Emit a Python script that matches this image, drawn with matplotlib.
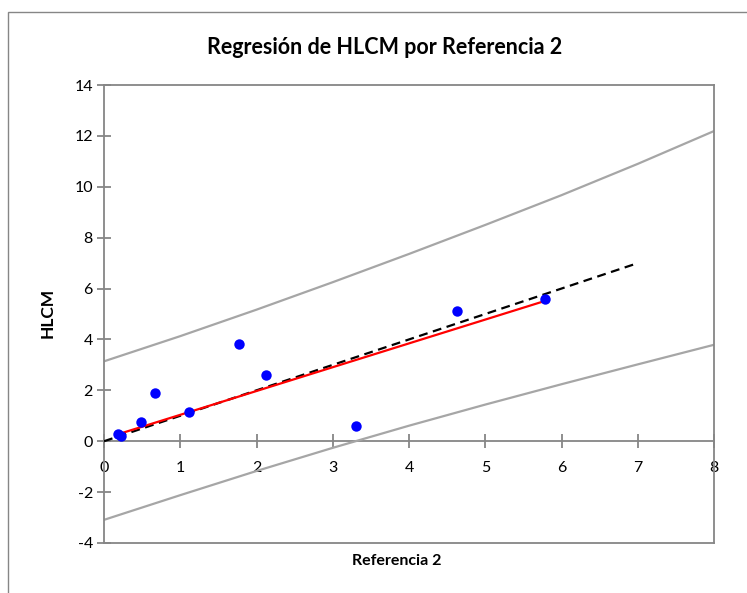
import matplotlib
matplotlib.use("Agg")
import matplotlib.pyplot as plt
from matplotlib.patches import Rectangle

# Data
ref2 = [0.18, 0.22, 0.49, 0.67, 1.11, 1.77, 2.13, 3.31, 4.63, 5.79]
hlcm = [0.29, 0.21, 0.76, 1.89, 1.16, 3.84, 2.61, 0.59, 5.11, 5.57]

# regression line (red)
fit_x = [0.18, 5.79]
fit_y = [0.27, 5.52]

# identity line (dashed)
ident_x = [0, 7]
ident_y = [0, 7]

# prediction bands (grey)
band_x = [0, 1, 2, 3, 4, 5, 6, 7, 8]
band_up = [3.14, 4.13, 5.17, 6.25, 7.36, 8.50, 9.67, 10.90, 12.19]
band_lo = [-3.09, -2.12, -1.17, -0.26, 0.61, 1.44, 2.24, 3.02, 3.79]

x_ticks = [0, 1, 2, 3, 4, 5, 6, 7, 8]
y_ticks = [-4, -2, 0, 2, 4, 6, 8, 10, 12, 14]

plt.rcParams['font.family'] = ['Lato', 'DejaVu Sans']
axis_grey = '#868686'

fig = plt.figure(figsize=(7.47, 5.93), dpi=100)
ax = fig.add_axes([104/747, 1-543/593, 610/747, 458/593])

# outer chart frame
fig.patches.append(Rectangle((8/747, -0.05), 1.2, 1 - 12/593 + 0.05, transform=fig.transFigure,
                             fill=False, edgecolor=axis_grey, lw=1.0))

ax.plot(band_x, band_up, color='#A6A6A6', lw=1.6, zorder=2)
ax.plot(band_x, band_lo, color='#A6A6A6', lw=1.6, zorder=2)
ax.plot(ident_x, ident_y, color='black', lw=1.6, ls=(0, (4, 2.5)), zorder=3)
ax.plot(fit_x, fit_y, color='#FF0000', lw=1.6, zorder=4)
ax.plot(ref2, hlcm, 'o', color='#0000FF', markersize=7.5, markeredgewidth=0, zorder=5)

ax.set_xlim(0, 8)
ax.set_ylim(-4, 14)
for s in ax.spines.values():
    s.set_color(axis_grey)
    s.set_linewidth(1.3)

ax.set_yticks(y_ticks)
ax.set_yticklabels([str(v) for v in y_ticks])
ax.tick_params(axis='y', direction='inout', length=10, width=1.3, color=axis_grey,
               labelsize=11.5, pad=3)
ax.set_xticks([])

# x axis crossing at y = 0
sec = ax.secondary_xaxis(4/18)
sec.set_xticks(x_ticks)
sec.set_xticklabels([str(v) for v in x_ticks])
sec.spines['bottom'].set_color(axis_grey)
sec.spines['bottom'].set_linewidth(1.3)
sec.tick_params(axis='x', direction='inout', length=10, width=1.3, color=axis_grey,
                labelsize=11.5, pad=9)

fig.text(385/747, 1-47/593, 'Regresión de HLCM por Referencia 2', ha='center', va='center',
         fontsize=15.5, fontweight='bold')
fig.text(48/747, 1-313/593, 'HLCM', ha='center', va='center', rotation=90,
         fontsize=12.5, fontweight='bold')
fig.text(397/747, 1-561/593, 'Referencia 2', ha='center', va='center',
         fontsize=11.5, fontweight='bold')

fig.savefig('out.png', dpi=100)
